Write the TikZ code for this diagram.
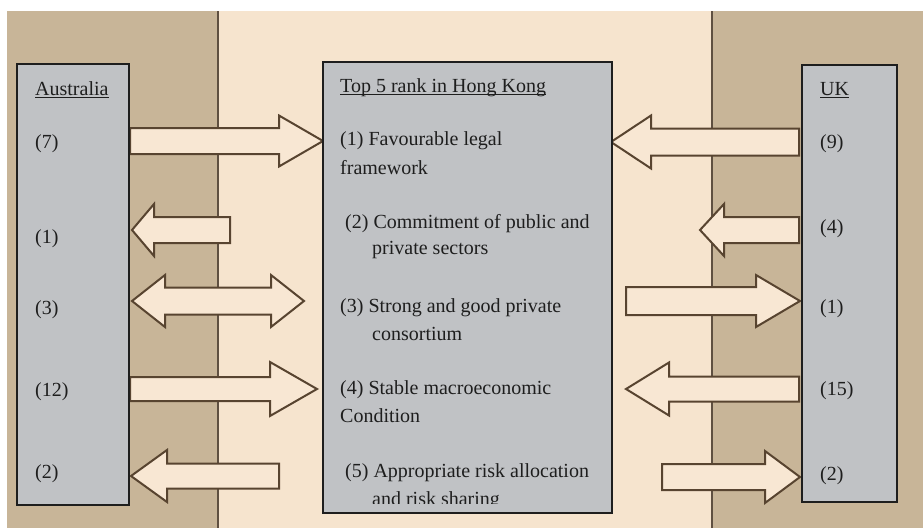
\documentclass[tikz,border=0pt]{standalone}
\usepackage{fontspec}
\setmainfont{Liberation Serif}
\definecolor{tanbg}{RGB}{200,181,152}
\definecolor{creambg}{RGB}{246,228,206}
\definecolor{boxgray}{RGB}{192,194,197}
\definecolor{arrfill}{RGB}{248,231,211}
\definecolor{arrline}{RGB}{88,68,48}
\definecolor{divline}{RGB}{95,80,65}
\definecolor{txtcol}{RGB}{30,30,30}
\newcommand\myul[1]{\setbox0\hbox{#1}\rlap{\rule[-3pt]{\wd0}{1.2pt}}\box0}
\newcommand\ArrS[6]{% tail, base, tip, centre, shaft half, head half
  \draw[arr] (#1,#4-#5) -- (#2,#4-#5) -- (#2,#4-#6) -- (#3,#4) -- (#2,#4+#6) -- (#2,#4+#5) -- (#1,#4+#5) -- cycle;}
\newcommand\ArrD[7]{% tipL, baseL, baseR, tipR, centre, shaft half, head half
  \draw[arr] (#1,#5) -- (#2,#5-#7) -- (#2,#5-#6) -- (#3,#5-#6) -- (#3,#5-#7) -- (#4,#5) -- (#3,#5+#7) -- (#3,#5+#6) -- (#2,#5+#6) -- (#2,#5+#7) -- cycle;}
\begin{document}
\begin{tikzpicture}[x=1pt,y=-1pt,
  arr/.style={draw=arrline,fill=arrfill,line width=2pt},
  panel/.style={draw=txtcol,fill=boxgray,line width=2pt},
  txt/.style={anchor=base west,inner sep=0pt,text=txtcol,font=\fontsize{20}{24}\selectfont}]
\useasboundingbox (0,0) rectangle (923,530);
\fill[white] (0,0) rectangle (923,530);
% backgrounds
\fill[tanbg] (7,11) rectangle (218,528);
\fill[creambg] (218,11) rectangle (712,528);
\fill[tanbg] (712,11) rectangle (923,528);
\draw[divline,line width=1.5pt] (218,11) -- (218,528);
\draw[divline,line width=1.5pt] (712,11) -- (712,528);
% arrows, left side
\ArrS{130}{279}{323}{141}{13}{25.5}
\ArrS{230}{154}{132}{230}{13}{26}
\ArrD{132}{165}{271}{304}{301}{13.5}{26}
\ArrS{130}{270}{317}{389}{12}{27}
\ArrS{279}{167}{131}{476}{12.5}{26}
% arrows, right side
\ArrS{799}{651}{611}{142}{13.5}{26.5}
\ArrS{799}{724}{700}{230}{13}{26}
\ArrS{626}{756}{800}{301}{14}{26}
\ArrS{799}{669}{626}{389}{12.5}{26.5}
\ArrS{662}{765}{800}{477}{13}{26}
% boxes
\draw[panel] (17,64) rectangle (129,505);
\draw[panel] (323,62) rectangle (612,513);
\draw[panel] (802,65) rectangle (897,502);
% Australia column
\node[txt] (aus) at (35,95) {\myul{Australia}};
\node[txt] (a7) at (35,148) {(7)};
\node[txt] (a1) at (35,243) {(1)};
\node[txt] (a3) at (35,314) {(3)};
\node[txt] (a12) at (35,396) {(12)};
\node[txt] (a2) at (35,478) {(2)};
% UK column
\node[txt] (uk) at (820,95) {\myul{UK}};
\node[txt] (u9) at (820,148) {(9)};
\node[txt] (u4) at (820,233) {(4)};
\node[txt] (u1) at (820,313) {(1)};
\node[txt] (u15) at (820,395) {(15)};
\node[txt] (u2) at (820,480) {(2)};
% Hong Kong column
\node[txt] (hk) at (340,92) {\myul{Top 5 rank in Hong Kong}};
\node[txt] (h1a) at (340,145) {(1) Favourable legal};
\node[txt] (h1b) at (340,174) {framework};
\node[txt] (h2a) at (345,228) {(2) Commitment of public and};
\node[txt] (h2b) at (372,254) {private sectors};
\node[txt] (h3a) at (340,312) {(3) Strong and good private};
\node[txt] (h3b) at (372,340) {consortium};
\node[txt] (h4a) at (340,394) {(4) Stable macroeconomic};
\node[txt] (h4b) at (340,422) {Condition};
\node[txt] (h5a) at (345,477) {(5) Appropriate risk allocation};
\begin{scope}
\clip (325,480) rectangle (610,503);
\node[txt] (h5b) at (372,505) {and risk sharing};
\end{scope}
\end{tikzpicture}
\end{document}
